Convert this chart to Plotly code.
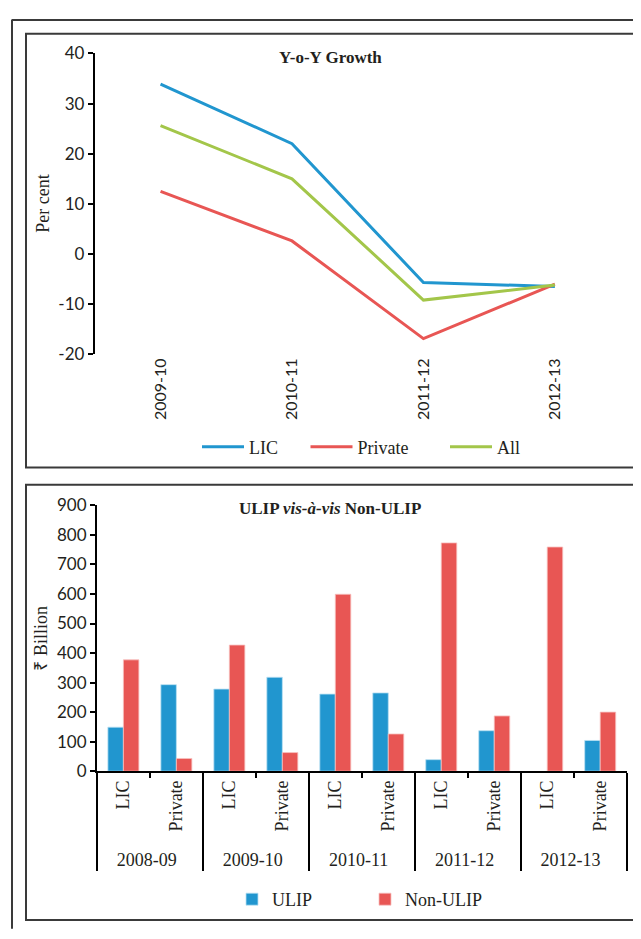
import plotly.graph_objects as go

# ---------------- data ----------------
years_top = ["2009-10", "2010-11", "2011-12", "2012-13"]
lic_growth = [33.9, 22.0, -5.7, -6.5]
private_growth = [12.5, 2.6, -16.9, -6.0]
all_growth = [25.6, 15.0, -9.2, -6.2]

years_bar = ["2008-09", "2009-10", "2010-11", "2011-12", "2012-13"]
insurers = ["LIC", "Private"]
ulip_values = [149, 293, 278, 318, 261, 265, 39, 137, None, 104]
non_ulip_values = [377, 43, 427, 63, 599, 126, 773, 187, 759, 200]

# ---------------- styles ----------------
PAGE_W, PAGE_H = 641, 939
BODY = 8  # default body margin of the html page
W, H = PAGE_W - 2 * BODY, PAGE_H - 2 * BODY
BLUE = "#2196cf"
RED = "#e85654"
GREEN = "#a3c64a"
INK = "#231f20"
SERIF = "Liberation Serif"
SANS = "Lato"
NB = "\u00a0"

def px_x(x):
    return (x - BODY) / W

def px_y(y):
    return 1 - (y - BODY) / H

outer_cat = [y for y in years_bar for _ in insurers]
inner_cat = [i for _ in years_bar for i in insurers]

fig = go.Figure()

fig.add_trace(go.Scatter(x=years_top, y=lic_growth, name="LIC" + NB * 5, mode="lines",
                         line=dict(color=BLUE, width=3), xaxis="x", yaxis="y", legend="legend"))
fig.add_trace(go.Scatter(x=years_top, y=private_growth, name="Private" + NB * 7, mode="lines",
                         line=dict(color=RED, width=3), xaxis="x", yaxis="y", legend="legend"))
fig.add_trace(go.Scatter(x=years_top, y=all_growth, name="All", mode="lines",
                         line=dict(color=GREEN, width=3), xaxis="x", yaxis="y", legend="legend"))

fig.add_trace(go.Bar(x=[outer_cat, inner_cat], y=ulip_values, name="ULIP",
                     marker=dict(color=BLUE, line=dict(color="#b9e0f3", width=0.8)),
                     xaxis="x3", yaxis="y3", legend="legend2"))
fig.add_trace(go.Bar(x=[outer_cat, inner_cat], y=non_ulip_values, name="Non-ULIP",
                     marker=dict(color=RED, line=dict(color="#f7c0bf", width=0.8)),
                     xaxis="x3", yaxis="y3", legend="legend2"))

top_x = [px_x(94.8), px_x(620.6)]
top_y = [px_y(351), px_y(43.3)]
bot_x = [px_x(96.9), px_x(626.7)]
bot_y = [px_y(777.7), px_y(505.7)]

fig.update_layout(
    width=W, height=H,
    margin=dict(l=0, r=0, t=0, b=0),
    paper_bgcolor="white", plot_bgcolor="white",
    font=dict(family=SERIF, color=INK, size=18),
    barmode="group", bargap=0.415, bargroupgap=0,
    xaxis=dict(domain=top_x, anchor="y", type="category", range=[-0.5, 3.5],
               showline=False, ticks="", showgrid=False, zeroline=False,
               tickangle=-90, tickfont=dict(family=SANS, size=16, color=INK)),
    xaxis2=dict(domain=top_x, anchor="free", overlaying="x", position=px_y(248.6),
                type="category", categoryarray=years_top, range=[-0.5, 3.5],
                showline=True, linecolor="black", linewidth=2,
                ticks="outside", tickson="boundaries", ticklen=5, tickwidth=2, tickcolor="black",
                showticklabels=False, showgrid=False, zeroline=False),
    yaxis=dict(domain=top_y, anchor="x", range=[-20, 40],
               tickvals=[-20, -10, 0, 10, 20, 30, 40],
               ticktext=["-20", "-10", "0", "10", "20", "30", "40"],
               showline=True, linecolor="black", linewidth=2,
               ticks="outside", ticklen=5, tickwidth=2, tickcolor="black",
               showgrid=False, zeroline=False,
               tickfont=dict(family=SANS, size=17, color=INK)),
    xaxis3=dict(domain=bot_x, anchor="y3", type="multicategory", range=[-0.5, 9.5],
                showline=True, linecolor="black", linewidth=2,
                ticks="outside", ticklen=5, tickwidth=2, tickcolor="black",
                showdividers=True, dividercolor="black", dividerwidth=2,
                tickangle=-90, showgrid=False, zeroline=False,
                tickfont=dict(family=SERIF, size=18, color=INK)),
    yaxis3=dict(domain=bot_y, anchor="x3", range=[0, 900], dtick=100,
                showline=True, linecolor="black", linewidth=2,
                ticks="outside", ticklen=5, tickwidth=2, tickcolor="black",
                showgrid=False, zeroline=False,
                tickfont=dict(family=SANS, size=17, color=INK)),
    legend=dict(orientation="h", x=px_x(197), y=px_y(446), xanchor="left", yanchor="middle",
                font=dict(family=SERIF, size=18, color=INK), itemwidth=42,
                bgcolor="rgba(0,0,0,0)"),
    legend2=dict(orientation="h", x=px_x(232), y=px_y(909), xanchor="left", yanchor="middle",
                 font=dict(family=SERIF, size=18, color=INK), entrywidth=88,
                 bgcolor="rgba(0,0,0,0)"),
    showlegend=True,
)

annotations = [
    dict(text="<b>Y-o-Y Growth</b>", x=px_x(330), y=px_y(47), xref="paper", yref="paper",
         xanchor="center", yanchor="middle",
         showarrow=False, font=dict(family=SERIF, size=17, color=INK)),
    dict(text="<b>ULIP <i>vis-à-vis</i> Non-ULIP</b>", x=px_x(330), y=px_y(509), xref="paper", yref="paper",
         xanchor="center", yanchor="middle",
         showarrow=False, font=dict(family=SERIF, size=17, color=INK)),
    dict(text="Per cent", x=px_x(43), y=px_y(197), xref="paper", yref="paper", textangle=-90,
         xanchor="center", yanchor="middle",
         showarrow=False, font=dict(family=SERIF, size=18, color=INK)),
    dict(text="₹ Billion", x=px_x(41), y=px_y(642), xref="paper", yref="paper", textangle=-90,
         xanchor="center", yanchor="middle",
         showarrow=False, font=dict(family=SERIF, size=18, color=INK)),
]
fig.update_layout(annotations=annotations)

frame = dict(color="#3a3a3a", width=2)
shapes = [
    dict(type="line", xref="paper", yref="paper", x0=px_x(12), x1=px_x(12), y0=px_y(8.5), y1=px_y(939), line=frame),
    dict(type="line", xref="paper", yref="paper", x0=px_x(12), x1=px_x(641), y0=px_y(9), y1=px_y(9), line=frame),
    dict(type="rect", xref="paper", yref="paper", x0=px_x(26), x1=px_x(636), y0=px_y(467), y1=px_y(23), line=frame),
    dict(type="rect", xref="paper", yref="paper", x0=px_x(26), x1=px_x(636), y0=px_y(930), y1=px_y(484.5), line=frame),
]
fig.update_layout(shapes=shapes)

fig.write_html("out.html", config={"displayModeBar": False})
